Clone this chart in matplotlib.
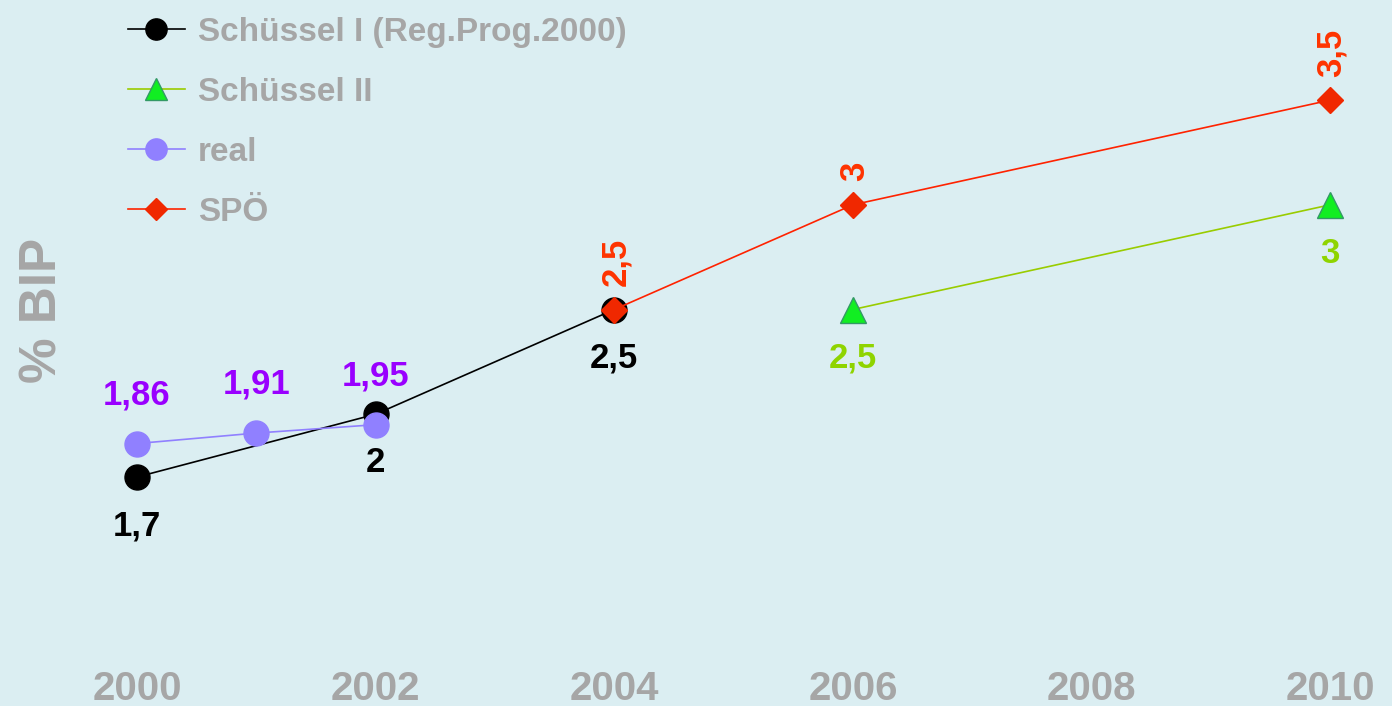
import matplotlib.pyplot as plt

# data
years_s1 = [2000, 2002, 2004]
vals_s1 = [1.7, 2.0, 2.5]
labels_s1 = ["1,7", "2", "2,5"]

years_s2 = [2006, 2010]
vals_s2 = [2.5, 3.0]
labels_s2 = ["2,5", "3"]

years_real = [2000, 2001, 2002]
vals_real = [1.86, 1.91, 1.95]
labels_real = ["1,86", "1,91", "1,95"]

years_spo = [2004, 2006, 2010]
vals_spo = [2.5, 3.0, 3.5]
labels_spo = ["2,5", "3", "3,5"]

tick_years = [2000, 2002, 2004, 2006, 2008, 2010]

BG = "#dbeef2"
GRAY = "#a6a6a6"

plt.rcParams["font.family"] = ["Liberation Sans", "DejaVu Sans"]
plt.rcParams["font.weight"] = "bold"

fig = plt.figure(figsize=(13.92, 7.06), dpi=100, facecolor=BG)
ax = fig.add_axes([0.0556, 0.0574, 0.9428, 0.8601], facecolor=BG)

ax.plot(years_s1, vals_s1, color="black", lw=1.2, marker="o", ms=18,
        mfc="black", mec="black", label="Schüssel I (Reg.Prog.2000)", zorder=3)
ax.plot(years_s2, vals_s2, color="#99cc00", lw=1.2, marker="^", ms=19,
        mfc="#11ee22", mec="#339966", label="Schüssel II", zorder=3)
ax.plot(years_real, vals_real, color="#9080ff", lw=1.2, marker="o", ms=18,
        mfc="#9080ff", mec="#9080ff", label="real", zorder=4)
ax.plot(years_spo, vals_spo, color="#ff2200", lw=1.2, marker="D", ms=13,
        mfc="#f02800", mec="#f02800", label="SPÖ", zorder=5)

# value labels
for x, y, t in zip(years_s1, vals_s1, labels_s1):
    ax.annotate(t, (x, y), xytext=(0, -35), textcoords="offset points",
                ha="center", va="center", fontsize=25, fontweight="bold", color="black")
for x, y, t in zip(years_s2, vals_s2, labels_s2):
    ax.annotate(t, (x, y), xytext=(0, -35), textcoords="offset points",
                ha="center", va="center", fontsize=25, fontweight="bold", color="#8fd400")
for x, y, t in zip(years_real, vals_real, labels_real):
    ax.annotate(t, (x, y), xytext=(0, 35), textcoords="offset points",
                ha="center", va="center", fontsize=25, fontweight="bold", color="#9900ff")
for x, y, t in zip(years_spo, vals_spo, labels_spo):
    ax.annotate(t, (x, y), xytext=(1, 17), textcoords="offset points",
                ha="center", va="bottom", rotation=90, fontsize=25,
                fontweight="bold", color="#ff3300")

ax.set_xlim(1999.5, 2010.5)
ax.set_ylim(0.8, 3.7)
ax.set_xticks(tick_years)
ax.set_xticklabels([str(y) for y in tick_years], fontsize=29, fontweight="bold", color=GRAY)
ax.tick_params(axis="x", length=0, pad=3)
ax.set_yticks([])
for s in ax.spines.values():
    s.set_visible(False)

fig.text(0.031, 0.56, "% BIP", rotation=90, ha="center", va="center",
         fontsize=37, fontweight="bold", color=GRAY)

leg = ax.legend(loc="upper left", bbox_to_anchor=(0.080, 1.0), bbox_transform=fig.transFigure,
                frameon=False, fontsize=24, handlelength=1.7, handletextpad=0.4,
                labelspacing=0.87, borderpad=0.0)
for t in leg.get_texts():
    t.set_color(GRAY)
    t.set_fontweight("bold")
for h in leg.legend_handles:
    h.set_markersize(h.get_markersize() * 0.85)

fig.savefig("out.png", dpi=100, facecolor=BG)
